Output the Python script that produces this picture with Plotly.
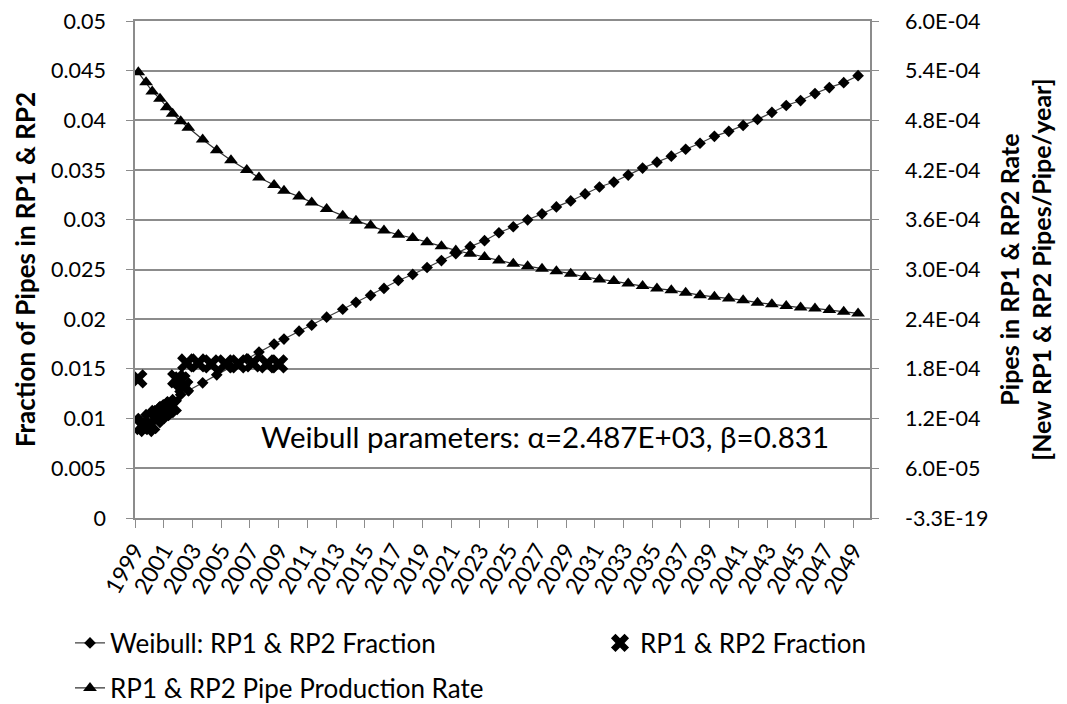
import plotly.graph_objects as go

# ---- data ----
years = [1999.23, 1999.77, 2000.20, 2000.74, 2001.21, 2001.62, 2002.18, 2002.71,
         2003.71, 2004.69, 2005.68, 2006.78, 2007.63, 2008.68, 2009.37, 2010.42,
         2011.30, 2012.34, 2013.46, 2014.38, 2015.40, 2016.33, 2017.33, 2018.33,
         2019.33, 2020.33, 2021.33, 2022.33, 2023.33, 2024.33, 2025.33, 2026.33,
         2027.33, 2028.33, 2029.33, 2030.33, 2031.33, 2032.33, 2033.33, 2034.33,
         2035.33, 2036.33, 2037.33, 2038.33, 2039.33, 2040.33, 2041.33, 2042.33,
         2043.33, 2044.33, 2045.33, 2046.33, 2047.33, 2048.33, 2049.33]

weibull_fraction = [0.0100, 0.0104, 0.0108, 0.0112, 0.0116, 0.0119, 0.0124, 0.0128,
                    0.0136, 0.0144, 0.0152, 0.0160, 0.0167, 0.0175, 0.0180, 0.0188,
                    0.0194, 0.0202, 0.0210, 0.0217, 0.0224, 0.0231, 0.0239, 0.0245,
                    0.0252, 0.0259, 0.0266, 0.0273, 0.0279, 0.0287, 0.0293, 0.0300,
                    0.0306, 0.0313, 0.0319, 0.0326, 0.0333, 0.0338, 0.0345, 0.0352,
                    0.0358, 0.0364, 0.0371, 0.0377, 0.0384, 0.0389, 0.0395, 0.0401,
                    0.0408, 0.0415, 0.0420, 0.0427, 0.0433, 0.0438, 0.0445]

production_rate = [5.38e-4, 5.26e-4, 5.15e-4, 5.06e-4, 4.96e-4, 4.88e-4, 4.79e-4, 4.71e-4,
                   4.57e-4, 4.44e-4, 4.32e-4, 4.20e-4, 4.11e-4, 4.02e-4, 3.95e-4, 3.88e-4,
                   3.81e-4, 3.73e-4, 3.65e-4, 3.59e-4, 3.53e-4, 3.47e-4, 3.42e-4, 3.38e-4,
                   3.33e-4, 3.28e-4, 3.23e-4, 3.19e-4, 3.15e-4, 3.11e-4, 3.07e-4, 3.04e-4,
                   3.01e-4, 2.98e-4, 2.95e-4, 2.91e-4, 2.88e-4, 2.86e-4, 2.83e-4, 2.80e-4,
                   2.77e-4, 2.75e-4, 2.72e-4, 2.69e-4, 2.67e-4, 2.65e-4, 2.63e-4, 2.60e-4,
                   2.58e-4, 2.56e-4, 2.54e-4, 2.53e-4, 2.51e-4, 2.49e-4, 2.47e-4]

obs_years = [1999.2, 1999.5, 1999.8, 2000.1, 2000.4, 2000.7, 2001.0, 2001.3, 2001.6,
             2001.9, 2002.2, 2002.4, 2002.6, 2003.4, 2004.3, 2005.3, 2006.2, 2007.2,
             2008.2, 2009.0]
obs_fraction = [0.0140, 0.0093, 0.0091, 0.0094, 0.0100, 0.0104, 0.0107, 0.0110, 0.0113,
                0.0140, 0.0138, 0.0132, 0.0156, 0.0156, 0.0155, 0.0155, 0.0155, 0.0156,
                0.0155, 0.0155]

x_tick_vals = list(range(1999, 2050, 2))
x_tick_labels = [str(y) for y in x_tick_vals]
left_tick_vals = [0, 0.005, 0.01, 0.015, 0.02, 0.025, 0.03, 0.035, 0.04, 0.045, 0.05]
left_tick_text = ["0", "0.005", "0.01", "0.015", "0.02", "0.025", "0.03", "0.035",
                  "0.04", "0.045", "0.05"]
right_tick_vals = [0, 6e-5, 1.2e-4, 1.8e-4, 2.4e-4, 3.0e-4, 3.6e-4, 4.2e-4, 4.8e-4,
                   5.4e-4, 6.0e-4]
right_tick_text = ["-3.3E-19", "6.0E-05", "1.2E-04", "1.8E-04", "2.4E-04", "3.0E-04",
                   "3.6E-04", "4.2E-04", "4.8E-04", "5.4E-04", "6.0E-04"]

FONT = "Lato, Carlito, Calibri, sans-serif"
GRID = "#8c8c8c"
# the page body keeps an 8px default margin, so the figure is sized to fit the window
W, H = 1059, 696
TOP, BOTTOM = 13, 186
plot_h = H - TOP - BOTTOM

fig = go.Figure()
fig.add_trace(go.Scatter(
    x=years, y=weibull_fraction, name="Weibull: RP1 & RP2 Fraction",
    mode="lines+markers", line=dict(color="#404040", width=1.2),
    marker=dict(symbol="diamond", size=9, color="black"), yaxis="y",
    legend="legend"))
fig.add_trace(go.Scatter(
    x=obs_years, y=obs_fraction, name="RP1 & RP2 Fraction",
    mode="markers", marker=dict(symbol="x", size=17, color="black",
                                line=dict(width=0)), yaxis="y",
    legend="legend2"))
fig.add_trace(go.Scatter(
    x=years, y=production_rate, name="RP1 & RP2 Pipe Production Rate",
    mode="lines+markers", line=dict(color="#303030", width=1.2),
    marker=dict(symbol="triangle-up", size=12, color="black"), yaxis="y2",
    legend="legend3"))

leg_common = dict(orientation="h", xref="container", yref="container",
                  xanchor="left", yanchor="middle",
                  font=dict(family=FONT, size=26), bgcolor="rgba(0,0,0,0)")

fig.update_layout(
    width=W, height=H,
    margin=dict(l=127, r=197, t=TOP, b=BOTTOM, autoexpand=False),
    paper_bgcolor="white", plot_bgcolor="white",
    font=dict(family=FONT, size=22, color="black"),
    showlegend=True,
    legend=dict(x=62 / W, y=1 - 635 / H, **leg_common),
    legend2=dict(x=592 / W, y=1 - 635 / H, **leg_common),
    legend3=dict(x=62 / W, y=1 - 680 / H, **leg_common),
    xaxis=dict(range=[1999, 2050.16], tickvals=x_tick_vals,
               ticktext=x_tick_labels, tickangle=-60, showgrid=False,
               showline=True, mirror=True, linecolor=GRID, linewidth=1.5,
               ticks="outside", ticklen=8, tickcolor=GRID,
               tickfont=dict(size=23), zeroline=False, automargin=False),
    yaxis=dict(range=[0, 0.050001], tickvals=left_tick_vals,
               ticktext=left_tick_text,
               showgrid=True, gridcolor=GRID, gridwidth=1.5,
               showline=True, linecolor=GRID, linewidth=1.5,
               ticks="outside", ticklen=7, tickcolor=GRID, zeroline=False,
               automargin=False, ticklabelstandoff=16, ticklabeloverflow="allow",
               title=dict(text="<b>Fraction of Pipes in RP1 & RP2</b>",
                          font=dict(size=26), standoff=8),
               tickfont=dict(size=21.5)),
    yaxis2=dict(range=[0, 6.00012e-4], tickvals=right_tick_vals,
                ticktext=right_tick_text,
                overlaying="y", side="right", showgrid=False,
                showline=True, linecolor=GRID, linewidth=1.5,
                ticks="outside", ticklen=7, tickcolor=GRID, zeroline=False,
                automargin=False, ticklabelstandoff=22, ticklabeloverflow="allow",
                title=dict(text="<b>Pipes in RP1 & RP2 Rate<br>[New RP1 & RP2 Pipes/Pipe/year]</b>",
                           font=dict(size=25), standoff=14),
                tickfont=dict(size=21.5)),
    annotations=[dict(text="Weibull parameters: α=2.487E+03, β=0.831",
                      xref="paper", yref="paper", x=(545 - 135) / 735,
                      y=(518 - 437) / plot_h, xanchor="center", yanchor="middle",
                      showarrow=False, font=dict(family=FONT, size=29.5))],
)

fig.write_html("out.html")
